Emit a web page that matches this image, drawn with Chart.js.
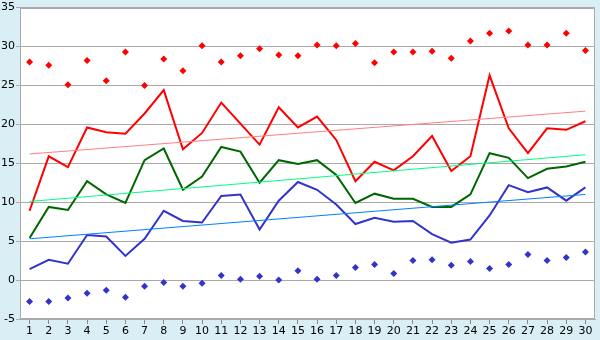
<!DOCTYPE html>
<html>
<head>
<meta charset="utf-8">
<script src="https://cdn.jsdelivr.net/npm/chart.js@4"></script>
<style>
  html, body { margin: 0; padding: 0; background: #d9eef5; }
  canvas { display: block; }
</style>
</head>
<body>
<canvas id="chart" width="600" height="340"></canvas>
<script>
"use strict";

// Data
const labels = ["1", "2", "3", "4", "5", "6", "7", "8", "9", "10", "11", "12", "13", "14", "15",
                "16", "17", "18", "19", "20", "21", "22", "23", "24", "25", "26", "27", "28", "29", "30"];

const redLine = [8.9, 15.9, 14.5, 19.6, 19.0, 18.8, 21.4, 24.4, 16.8, 18.9, 22.8, 20.1, 17.4, 22.2, 19.6,
                 21.0, 18.0, 12.7, 15.2, 14.1, 15.9, 18.5, 14.0, 15.9, 26.3, 19.5, 16.3, 19.5, 19.3, 20.4];
const greenLine = [5.4, 9.4, 9.0, 12.7, 11.0, 9.9, 15.4, 16.9, 11.6, 13.3, 17.1, 16.5, 12.5, 15.4, 14.9,
                   15.4, 13.5, 9.9, 11.1, 10.45, 10.45, 9.4, 9.4, 11.0, 16.3, 15.7, 13.1, 14.3, 14.6, 15.2];
const blueLine = [1.4, 2.6, 2.1, 5.8, 5.6, 3.1, 5.3, 8.9, 7.6, 7.4, 10.8, 11.0, 6.5, 10.2, 12.6,
                  11.6, 9.7, 7.2, 8.0, 7.5, 7.6, 5.9, 4.8, 5.2, 8.3, 12.2, 11.3, 11.9, 10.2, 11.9];

const redPoints = [28.0, 27.6, 25.1, 28.2, 25.6, 29.3, 25.0, 28.4, 26.9, 30.1, 28.0, 28.8, 29.7, 28.9, 28.8,
                   30.2, 30.1, 30.4, 27.9, 29.3, 29.3, 29.4, 28.5, 30.7, 31.7, 32.0, 30.2, 30.2, 31.7, 29.5];
const bluePoints = [-2.75, -2.75, -2.3, -1.7, -1.3, -2.2, -0.8, -0.3, -0.8, -0.4, 0.6, 0.1, 0.5, 0.0, 1.2,
                    0.1, 0.6, 1.6, 2.0, 0.85, 2.5, 2.6, 1.9, 2.4, 1.5, 2.0, 3.3, 2.5, 2.9, 3.6];

// trend lines: value at first and last category
const redTrend = [16.2, 21.7];
const greenTrend = [10.1, 16.1];
const blueTrend = [5.3, 11.0];

const yTicks = [-5, 0, 5, 10, 15, 20, 25, 30, 35];

// put the two trend ends on the first and last category
function trendData(ends) {
    return labels.map((_, i) => i === 0 ? ends[0] : (i === labels.length - 1 ? ends[1] : null));
}

function lineSet(values, color, width) {
    return {
        data: values,
        borderColor: color,
        borderWidth: width,
        pointRadius: 0,
        spanGaps: true,
        tension: 0,
        fill: false
    };
}

function pointSet(values, color) {
    return {
        data: values,
        showLine: false,
        pointStyle: 'rectRot',
        pointRadius: 3.5,
        pointBackgroundColor: color,
        pointBorderColor: color,
        pointBorderWidth: 0
    };
}

// backgrounds and frame
const frame = {
    id: 'frame',
    beforeDraw: function(chart) {
        const ctx = chart.ctx;
        const a = chart.chartArea;
        ctx.save();
        ctx.fillStyle = '#d9eef5';
        ctx.fillRect(0, 0, chart.width, chart.height);
        ctx.fillStyle = '#ffffff';
        ctx.fillRect(a.left, a.top, a.right - a.left, a.bottom - a.top);
        ctx.restore();
    },
    beforeDatasetsDraw: function(chart) {
        const ctx = chart.ctx;
        const a = chart.chartArea;
        ctx.save();
        ctx.strokeStyle = '#aaaaaa';
        ctx.lineWidth = 1;
        ctx.strokeRect(Math.round(a.left) + 0.5, Math.round(a.top) + 0.5,
                       Math.round(a.right - a.left) - 1, Math.round(a.bottom - a.top) - 1);
        ctx.restore();
    }
};

const config = {
    type: 'line',
    data: {
        labels: labels,
        datasets: [
            lineSet(trendData(redTrend), '#ff8080', 1),
            lineSet(trendData(greenTrend), '#00ff80', 1),
            lineSet(trendData(blueTrend), '#0080ff', 1),
            lineSet(redLine, '#ff0000', 2),
            lineSet(greenLine, '#006600', 2),
            lineSet(blueLine, '#3333cc', 2),
            pointSet(redPoints, '#ff0000'),
            pointSet(bluePoints, '#3333cc')
        ]
    },
    options: {
        responsive: false,
        animation: false,
        layout: { padding: { top: 5, right: 5, left: 0, bottom: 0 } },
        plugins: {
            legend: { display: false },
            tooltip: { enabled: false }
        },
        scales: {
            x: {
                offset: true,
                grid: {
                    drawOnChartArea: false,
                    color: '#888888',
                    tickLength: 5
                },
                border: { color: '#aaaaaa' },
                ticks: {
                    color: '#000000',
                    padding: 1,
                    maxRotation: 0,
                    autoSkip: false,
                    font: { family: 'DejaVu Sans', size: 11 }
                },
                afterFit: function(scale) { scale.height = 21; }
            },
            y: {
                min: yTicks[0],
                max: yTicks[yTicks.length - 1],
                afterBuildTicks: function(scale) {
                    scale.ticks = yTicks.map(v => ({ value: v }));
                },
                grid: {
                    color: '#aaaaaa',
                    tickLength: 4
                },
                border: { color: '#aaaaaa' },
                ticks: {
                    color: '#000000',
                    padding: 1,
                    font: { family: 'DejaVu Sans', size: 11 }
                },
                afterFit: function(scale) { scale.width = 20; }
            }
        }
    },
    plugins: [frame]
};

const myChart = new Chart(document.getElementById('chart'), config);
</script>
</body>
</html>
